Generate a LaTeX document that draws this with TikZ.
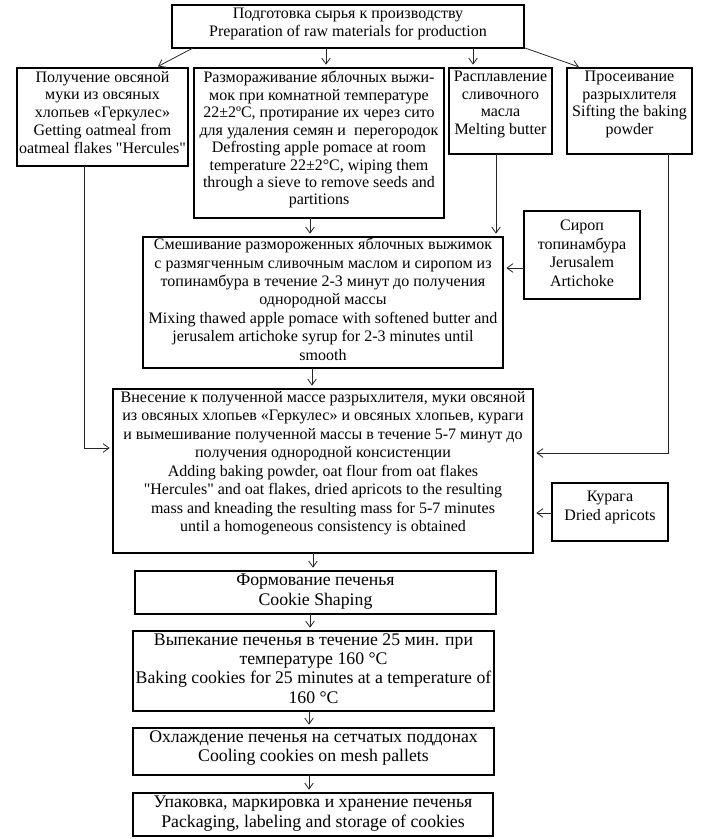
\documentclass[tikz,border=0pt]{standalone}
\usepackage{fontspec}
\setmainfont{Liberation Serif}
\usetikzlibrary{arrows.meta}
\def\px{0.75pt}
\def\qq{\XeTeXglyph\XeTeXcharglyph"22\relax}
\begin{document}
\begin{tikzpicture}[x=0.75pt,y=-0.75pt,
  box/.style={draw=black,line width=0.8pt,inner sep=0pt,outer sep=0pt},
  txt/.style={anchor=north,inner sep=0pt,align=center,font=\fontsize{12}{13.8}\selectfont},
  txtb/.style={anchor=north,inner sep=0pt,align=center,font=\fontsize{13.3}{14.5}\selectfont},
  arr/.style={draw=black!85,line width=0.6pt,shorten >=2.5pt,-{Straight Barb[length=4.5pt,width=6.5pt]}}]
\useasboundingbox (0,0) rectangle (702,839);
% boxes
\node[box,minimum width=352*\px,minimum height=43*\px] (top) at (348,26.5) {};
\node[box,minimum width=171*\px,minimum height=98*\px] (oat) at (102.5,117) {};
\node[box,minimum width=250*\px,minimum height=150*\px] (defrost) at (319,143) {};
\node[box,minimum width=103*\px,minimum height=86*\px] (melt) at (500.5,111) {};
\node[box,minimum width=125*\px,minimum height=86*\px] (sift) at (629.5,111) {};
\node[box,minimum width=360*\px,minimum height=131*\px] (mix) at (323,302.5) {};
\node[box,minimum width=116*\px,minimum height=88*\px] (sirup) at (582,255) {};
\node[box,minimum width=420*\px,minimum height=164*\px] (add) at (323,471) {};
\node[box,minimum width=116*\px,minimum height=58*\px] (kuraga) at (610,512) {};
\node[box,minimum width=361*\px,minimum height=43*\px] (form) at (315.5,592.5) {};
\node[box,minimum width=361*\px,minimum height=80*\px] (bake) at (313.5,671) {};
\node[box,minimum width=361*\px,minimum height=47*\px] (cool) at (313.5,751.5) {};
\node[box,minimum width=360*\px,minimum height=43*\px] (pack) at (313,814.5) {};
% texts
\node[txt,font=\fontsize{12}{13.5}\selectfont] (ttop) at (348,8) {Подготовка сырья к производству\\Preparation of raw materials for production};
\node[txt,font=\fontsize{12}{13.3}\selectfont] (toat) at (102.5,71) {Получение овсяной\\муки из овсяных\\хлопьев «Геркулес»\\Getting oatmeal from\\oatmeal flakes \qq Hercules\qq};
\node[txt,font=\fontsize{12}{13.1}\selectfont] (tdefrost) at (319,71) {Размораживание яблочных выжи-\\мок при комнатной температуре\\22±2ºС, протирание их через сито\\для удаления семян и \ перегородок\\Defrosting apple pomace at room\\temperature 22±2°C, wiping them\\through a sieve to remove seeds and\\partitions};
\node[txt,font=\fontsize{12}{13.1}\selectfont] (tmelt) at (500.5,71) {Расплавление\\сливочного\\масла\\Melting butter};
\node[txt,font=\fontsize{12}{13.1}\selectfont] (tsift) at (629.5,71) {Просеивание\\разрыхлителя\\Sifting the baking\\powder};
\node[txt] (tmix) at (323,238) {Смешивание размороженных яблочных выжимок\\с размягченным сливочным маслом и сиропом из\\топинамбура в течение 2-3 минут до получения\\однородной массы\\Mixing thawed apple pomace with softened butter and\\jerusalem artichoke syrup for 2-3 minutes until\\smooth};
\node[txt] (tsirup) at (582,220) {Сироп\\топинамбура\\Jerusalem\\Artichoke};
\node[txt,font=\fontsize{12}{13.9}\selectfont] (tadd) at (323,391) {Внесение к полученной массе разрыхлителя, муки овсяной\\из овсяных хлопьев «Геркулес» и овсяных хлопьев, кураги\\и вымешивание полученной массы в течение 5-7 минут до\\получения однородной консистенции\\Adding baking powder, oat flour from oat flakes\\\qq Hercules\qq{} and oat flakes, dried apricots to the resulting\\mass and kneading the resulting mass for 5-7 minutes\\until a homogeneous consistency is obtained};
\node[txt] (tkuraga) at (610,491) {Курага\\Dried apricots};
\node[txtb] (tform) at (315.5,574) {Формование печенья\\Cookie Shaping};
\node[txtb] (tbake) at (313.5,633) {Выпекание печенья в течение 25 мин. при\\температуре 160 °С\\Baking cookies for 25 minutes at a temperature of\\160 °С};
\node[txtb] (tcool) at (313.5,730) {Охлаждение печенья на сетчатых поддонах\\Cooling cookies on mesh pallets};
\node[txtb] (tpack) at (313,796) {Упаковка, маркировка и хранение печенья\\Packaging, labeling and storage of cookies};
% connectors
\draw[arr] (top.south -| 193,0) -- (oat.north -| 155,0);
\draw[arr] (top.south -| 326,0) -- (defrost.north -| 326,0);
\draw[arr] (top.south -| 473,0) -- (melt.north -| 473,0);
\draw[arr] (top.south -| 525,0) -- (sift.north -| 582,0);
\draw[arr] (defrost.south -| 310,0) -- (mix.north -| 310,0);
\draw[arr] (melt.south -| 496,0) -- (mix.north -| 496,0);
\draw[arr] (oat.south -| 84,0) |- (add.west |- 0,448);
\draw[arr] (sift.south -| 668,0) |- (add.east |- 0,453);
\draw[arr] (sirup.west |- 0,268) -- (mix.east |- 0,268);
\draw[arr] (kuraga.west |- 0,513) -- (add.east |- 0,513);
\draw[arr] (mix.south -| 312,0) -- (add.north -| 312,0);
\draw[arr] (add.south -| 313,0) -- (form.north -| 313,0);
\draw[arr] (form.south -| 310,0) -- (bake.north -| 310,0);
\draw[arr] (bake.south -| 309,0) -- (cool.north -| 309,0);
\draw[arr] (cool.south -| 309,0) -- (pack.north -| 309,0);
\end{tikzpicture}
\end{document}
